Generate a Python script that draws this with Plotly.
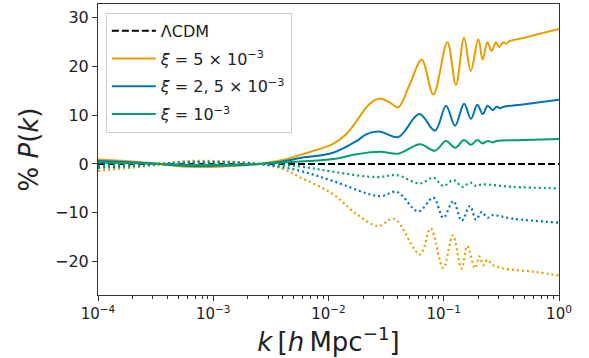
import plotly.graph_objects as go

# log10(k) sample positions and %P(k) values
orange_logk = [-4, -3.6, -3.2, -2.9, -2.6, -2.4, -2.25, -2.1, -1.96, -1.85, -1.755, -1.67, -1.61, -1.553, -1.47, -1.394,
               -1.293, -1.191, -1.09, -0.969, -0.894, -0.824, -0.766, -0.7, -0.662, -0.622, -0.584, -0.547, -0.518,
               -0.483, -0.46, -0.43, -0.3, -0.15, 0]
orange_val = [0.9, 0.3, -0.6, -0.5, 0.0, 0.8, 1.8, 2.9, 4.1, 6.0, 8.8, 11.6, 12.9, 13.4, 12.6, 11.6,
              16.4, 21.3, 14.2, 24.9, 16.2, 25.8, 19.0, 25.5, 21.3, 24.9, 23.1, 24.9, 23.9,
              24.9, 24.6, 25.1, 25.8, 26.7, 27.6]

blue_logk = [-4, -3.6, -3.2, -2.9, -2.6, -2.4, -2.25, -1.96, -1.755, -1.67, -1.553, -1.394, -1.212, -1.076, -0.98,
             -0.902, -0.824, -0.764, -0.709, -0.662, -0.619, -0.575, -0.541, -0.51, -0.48, -0.3, 0]
blue_val = [0.6, 0.2, -0.4, -0.3, 0.0, 0.5, 1.2, 2.3, 4.7, 6.1, 6.6, 5.5, 10.2, 6.8, 11.9,
            7.8, 12.3, 9.2, 12.1, 10.2, 11.9, 11.0, 11.7, 11.4, 11.7, 12.2, 13.1]

green_logk = [-4, -3.6, -3.2, -2.6, -2.25, -1.96, -1.755, -1.553, -1.394, -1.206, -1.076, -0.98, -0.902, -0.824,
              -0.764, -0.709, -0.662, -0.619, -0.575, -0.541, -0.3, 0]
green_val = [0.3, 0.1, -0.2, 0.0, 0.5, 1.0, 2.0, 2.5, 2.1, 4.0, 2.7, 4.7, 3.3, 4.9,
             3.9, 4.9, 4.2, 4.7, 4.4, 4.7, 4.9, 5.1]

orange_dot_logk = [-4, -3.6, -3.2, -2.9, -2.6, -2.4, -2.25, -1.96, -1.755, -1.568, -1.432, -1.206, -1.114, -1.004,
                   -0.922, -0.845, -0.796, -0.729, -0.69, -0.657, -0.62, -0.58, -0.5, -0.2, 0]
orange_dot_val = [-1.4, -0.5, 0.6, 0.5, 0.0, -1.0, -2.7, -6.2, -10.3, -12.7, -11.2, -18.5, -13.2, -21.3,
                  -14.6, -21.4, -16.8, -21.3, -18.9, -20.7, -19.6, -20.6, -21.3, -22.1, -22.8]

blue_dot_logk = [-4, -3.6, -3.2, -2.6, -2.25, -1.96, -1.553, -1.408, -1.221, -1.09, -1.004, -0.917, -0.845,
                 -0.772, -0.72, -0.671, -0.62, -0.58, -0.4, 0]
blue_dot_val = [-0.8, -0.3, 0.4, 0.0, -1.4, -3.5, -6.6, -5.7, -9.7, -6.9, -11.0, -7.6, -11.6,
                -8.6, -11.4, -9.8, -11.0, -10.5, -11.2, -12.0]

green_dot_logk = [-4, -3.2, -2.6, -2.25, -1.96, -1.582, -1.408, -1.206, -1.09, -1.004, -0.917, -0.836, -0.772,
                  -0.72, -0.67, -0.4, 0]
green_dot_val = [-0.4, 0.2, 0.0, -0.5, -1.6, -2.7, -2.3, -4.0, -2.8, -4.5, -3.3, -4.7, -3.8,
                 -4.5, -4.2, -4.7, -5.0]

lcdm_k = [1e-4, 1.0]
lcdm_val = [0, 0]

labels = ["ΛCDM", "<i>ξ</i> = 5 × 10<sup>−3</sup>", "<i>ξ</i> = 2, 5 × 10<sup>−3</sup>", "<i>ξ</i> = 10<sup>−3</sup>"]
x_tick_vals = [1e-4, 1e-3, 1e-2, 1e-1, 1]
x_tick_text = ["10<sup>−4</sup>", "10<sup>−3</sup>", "10<sup>−2</sup>", "10<sup>−1</sup>", "10<sup>0</sup>"]
y_tick_vals = [-20, -10, 0, 10, 20, 30]
y_tick_text = ["−20", "−10", "0", "10", "20", "30"]

ORANGE = "#E69F00"
BLUE = "#0173B2"
GREEN = "#029E73"

def k_of(logk):
    return [10 ** v for v in logk]

fig = go.Figure()
fig.add_trace(go.Scatter(x=lcdm_k, y=lcdm_val, mode="lines", name=labels[0],
                         line=dict(color="black", width=2, dash="7px,3px"), legendgroup="a"))
fig.add_trace(go.Scatter(x=k_of(orange_logk), y=orange_val, mode="lines", name=labels[1],
                         line=dict(color=ORANGE, width=2, shape="spline", smoothing=1.0), legendgroup="b"))
fig.add_trace(go.Scatter(x=k_of(blue_logk), y=blue_val, mode="lines", name=labels[2],
                         line=dict(color=BLUE, width=2, shape="spline", smoothing=1.0), legendgroup="c"))
fig.add_trace(go.Scatter(x=k_of(green_logk), y=green_val, mode="lines", name=labels[3],
                         line=dict(color=GREEN, width=2, shape="spline", smoothing=1.0), legendgroup="d"))
for lk, v, c in [(orange_dot_logk, orange_dot_val, ORANGE), (blue_dot_logk, blue_dot_val, BLUE),
                 (green_dot_logk, green_dot_val, GREEN)]:
    fig.add_trace(go.Scatter(x=k_of(lk), y=v, mode="lines", showlegend=False,
                             line=dict(color=c, width=2.2, shape="spline", smoothing=1.0, dash="2px,3px")))

minor_vals = [m * 10 ** e for e in range(-4, 0) for m in range(2, 10)]

fig.update_layout(
    width=589, height=358,
    margin=dict(l=98, r=30, t=4, b=63),
    paper_bgcolor="white", plot_bgcolor="white",
    font=dict(family="DejaVu Sans", size=14, color="#222"),
    showlegend=True,
    legend=dict(x=0.017, y=0.97, xanchor="left", yanchor="top", bgcolor="rgba(255,255,255,0.9)",
                bordercolor="#cccccc", borderwidth=1, font=dict(size=16, color="#222"),
                traceorder="grouped", tracegroupgap=4, itemwidth=44),
    xaxis=dict(type="log", range=[-4, 0], showgrid=False, zeroline=False,
               showline=True, mirror=True, linecolor="#333", linewidth=1,
               ticks="outside", ticklen=5, tickcolor="#333",
               tickvals=x_tick_vals, ticktext=x_tick_text, tickfont=dict(size=15),
               minor=dict(tickvals=minor_vals, ticks="outside", ticklen=3, tickcolor="#333"),
               title=dict(text="<i>k</i>\u2009[<i>h</i>\u2009Mpc<sup>−1</sup>]", font=dict(size=26), standoff=7)),
    yaxis=dict(range=[-26.8, 32.7], showgrid=False, zeroline=False,
               showline=True, mirror=True, linecolor="#333", linewidth=1,
               ticks="outside", ticklen=5, tickcolor="#333",
               tickvals=y_tick_vals, ticktext=y_tick_text, tickfont=dict(size=16),
               title=dict(text="% <i>P</i>(<i>k</i>)", font=dict(size=26), standoff=8)),
)

fig.write_html("out.html", config={"displayModeBar": False},
               post_script="document.body.style.margin='0';")
